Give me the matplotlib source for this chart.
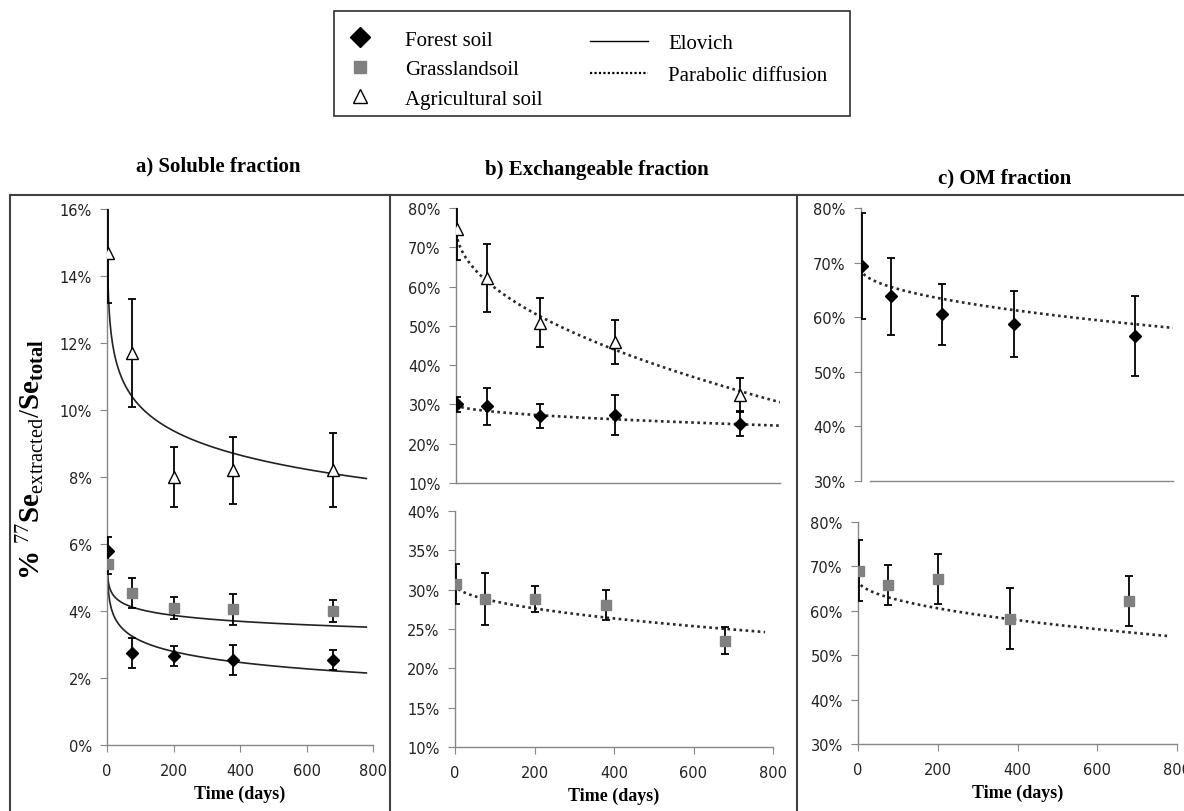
import numpy as np
import matplotlib.pyplot as plt
from matplotlib.lines import Line2D
from matplotlib.patches import Rectangle
from matplotlib.ticker import PercentFormatter, MultipleLocator

plt.rcParams['font.family'] = 'DejaVu Sans'
plt.rcParams['mathtext.fontset'] = 'custom'
plt.rcParams['mathtext.rm'] = 'Liberation Serif'
plt.rcParams['mathtext.bf'] = 'Liberation Serif:bold'
plt.rcParams['mathtext.it'] = 'Liberation Serif:italic'

W, H = 1184, 812

# sampling times (days)
days = [3, 75, 200, 380, 680]

# a) soluble fraction, % of 77Se
sol_forest = [5.8, 2.75, 2.65, 2.55, 2.55]
sol_forest_err = [0.4, 0.45, 0.3, 0.45, 0.3]
sol_grass = [5.4, 4.55, 4.1, 4.05, 4.0]
sol_grass_err = [0.3, 0.45, 0.33, 0.47, 0.33]
sol_agri = [14.7, 11.7, 8.0, 8.2, 8.2]
sol_agri_err = [1.5, 1.6, 0.9, 1.0, 1.1]

# b) exchangeable fraction
exc_forest = [30.1, 29.5, 27.0, 27.2, 25.1]
exc_forest_err = [1.9, 4.8, 3.0, 5.1, 3.1]
exc_agri = [74.7, 62.2, 50.8, 45.8, 32.5]
exc_agri_err = [8.0, 8.6, 6.2, 5.6, 4.2]
exc_grass = [30.7, 28.8, 28.8, 28.0, 23.5]
exc_grass_err = [2.5, 3.3, 1.7, 1.9, 1.7]

# c) OM fraction
om_forest = [69.3, 63.8, 60.5, 58.8, 56.5]
om_forest_err = [9.7, 7.0, 5.5, 6.0, 7.3]
om_grass = [69.0, 65.8, 67.2, 58.2, 62.2]
om_grass_err = [6.9, 4.6, 5.6, 6.9, 5.7]

# fitted model parameters
# Elovich: y = a + b ln(t)
elov_forest = (5.28, -0.47)
elov_grass = (5.225, -0.256)
elov_agri = (14.92, -1.046)
# parabolic diffusion: y = a + b sqrt(t)
para_exc_forest = (30.0, -0.194)
para_exc_agri = (75.1, -1.6)
para_exc_grass = (30.7, -0.218)
para_om_forest = (68.9, -0.39)
para_om_grass = (67.0, -0.455)

AX_GREY = '#868686'
SERIF = 'Liberation Serif'


def px_axes(fig, x0, x1, y_top, y_bot):
    # axes rectangle given in image pixels
    return fig.add_axes([x0 / W, 1 - y_bot / H, (x1 - x0) / W, (y_bot - y_top) / H])


def style_axes(ax, xmax, ylo, yhi, ystep, show_x=True):
    ax.set_xlim(0, xmax)
    ax.set_ylim(ylo, yhi)
    ax.yaxis.set_major_locator(MultipleLocator(ystep))
    ax.yaxis.set_major_formatter(PercentFormatter(xmax=100, decimals=0))
    ax.xaxis.set_major_locator(MultipleLocator(200))
    for s in ['top', 'right']:
        ax.spines[s].set_visible(False)
    for s in ['left', 'bottom']:
        ax.spines[s].set_color(AX_GREY)
        ax.spines[s].set_linewidth(1.0)
    ax.tick_params(axis='y', length=5, color=AX_GREY, labelsize=10.5,
                   labelcolor='#222222', pad=6)
    ax.tick_params(axis='x', length=5, color=AX_GREY, labelsize=10.5,
                   labelcolor='#222222', pad=8)
    if not show_x:
        ax.tick_params(axis='x', bottom=False, labelbottom=False)
    else:
        ax.set_xlabel('Time (days)', fontfamily=SERIF, fontweight='bold',
                      fontsize=13, labelpad=5)
    ax.patch.set_alpha(0)


def points(ax, y, err, kind):
    ebk = dict(yerr=err, fmt='none', ecolor='black', elinewidth=1.3,
               capsize=3, capthick=1.3, zorder=3)
    ax.errorbar(days, y, **ebk)
    if kind == 'forest':
        ax.plot(days, y, linestyle='none', marker='D', ms=6.5, color='black', zorder=4)
    elif kind == 'grass':
        ax.plot(days, y, linestyle='none', marker='s', ms=7, color='#808080', zorder=4)
    else:
        ax.plot(days, y, linestyle='none', marker='^', ms=9, mfc='white',
                mec='black', mew=1.0, zorder=4)


def elovich(ax, p, tmax):
    t = np.linspace(1, tmax, 400)
    ax.plot(t, p[0] + p[1] * np.log(t), color='#222222', lw=1.2, zorder=2)


def parabolic(ax, p, tmax):
    t = np.linspace(0, tmax, 400)
    ax.plot(t, p[0] + p[1] * np.sqrt(t), color='#2a2a2a', lw=1.9,
            linestyle=(0, (1, 1.3)), zorder=2)


fig = plt.figure(figsize=(W / 100, H / 100), dpi=100)

# a) soluble
ax_a = px_axes(fig, 107, 373, 210, 746)
style_axes(ax_a, 800, 0, 16, 2)
elovich(ax_a, elov_agri, 780)
elovich(ax_a, elov_grass, 780)
elovich(ax_a, elov_forest, 780)
points(ax_a, sol_agri, sol_agri_err, 'agri')
points(ax_a, sol_grass, sol_grass_err, 'grass')
points(ax_a, sol_forest, sol_forest_err, 'forest')

# b) exchangeable, top: forest + agricultural
ax_bt = px_axes(fig, 456, 780, 209, 484)
style_axes(ax_bt, 775, 10, 80, 10, show_x=False)
parabolic(ax_bt, para_exc_agri, 775)
parabolic(ax_bt, para_exc_forest, 775)
points(ax_bt, exc_agri, exc_agri_err, 'agri')
points(ax_bt, exc_forest, exc_forest_err, 'forest')

# b) exchangeable, bottom: grassland
ax_bb = px_axes(fig, 455, 773, 512, 748)
style_axes(ax_bb, 800, 10, 40, 5)
parabolic(ax_bb, para_exc_grass, 780)
points(ax_bb, exc_grass, exc_grass_err, 'grass')

# c) OM, top: forest
ax_ct = px_axes(fig, 861, 1173, 209, 482)
style_axes(ax_ct, 775, 30, 80, 10, show_x=False)
ax_ct.spines['bottom'].set_bounds(22, 775)
parabolic(ax_ct, para_om_forest, 775)
points(ax_ct, om_forest, om_forest_err, 'forest')

# c) OM, bottom: grassland
ax_cb = px_axes(fig, 858, 1177, 523, 745)
style_axes(ax_cb, 800, 30, 80, 10)
parabolic(ax_cb, para_om_grass, 780)
points(ax_cb, om_grass, om_grass_err, 'grass')

# panel titles
title_kw = dict(fontfamily=SERIF, fontweight='bold', fontsize=15,
                ha='center', va='center')
fig.text(218 / W, 1 - 166 / H, 'a) Soluble fraction', **title_kw)
fig.text(597 / W, 1 - 170 / H, 'b) Exchangeable fraction', **title_kw)
fig.text(1005 / W, 1 - 178 / H, 'c) OM fraction', **title_kw)

# y label
fig.text(31 / W, 1 - 460 / H,
         r'$\mathbf{\%}\ {}^{77}\mathbf{Se}_{\mathrm{extracted}}/\mathbf{Se}_{\mathbf{total}}$',
         rotation=90, ha='center', va='center', fontsize=21)

# panel frame lines
frame_kw = dict(color='#404040', lw=1.5, transform=fig.transFigure)
fig.add_artist(Line2D([10 / W, 1], [1 - 196 / H, 1 - 196 / H], **frame_kw))
for xv in [10, 390, 797]:
    fig.add_artist(Line2D([xv / W, xv / W], [0, 1 - 196 / H], **frame_kw))

# legend box
fig.add_artist(Rectangle((334 / W, 1 - 117 / H), (850 - 334) / W, 105 / H, fill=False,
                         edgecolor='#303030', lw=1.2, transform=fig.transFigure))
soil_handles = [
    Line2D([], [], linestyle='none', marker='D', ms=10, color='black'),
    Line2D([], [], linestyle='none', marker='s', ms=8, color='#808080'),
    Line2D([], [], linestyle='none', marker='^', ms=10, mfc='white', mec='black', mew=1.0),
]
soil_labels = ['Forest soil', 'Grasslandsoil', 'Agricultural soil']
leg1 = fig.legend(soil_handles, soil_labels, loc='upper left',
                  bbox_to_anchor=(337.5 / W, 1 - 20.5 / H), frameon=False,
                  borderpad=0, handlelength=1.2, handletextpad=1.56,
                  labelspacing=0.48, prop=dict(family=SERIF, size=15))
fit_handles = [
    Line2D([], [], color='black', lw=1.0),
    Line2D([], [], color='black', lw=1.6, linestyle=(0, (1, 1))),
]
fit_labels = ['Elovich', 'Parabolic diffusion']
leg2 = fig.legend(fit_handles, fit_labels, loc='upper left',
                  bbox_to_anchor=(580 / W, 1 - 24 / H), frameon=False,
                  borderpad=0, handlelength=2.74, handletextpad=1.0,
                  labelspacing=0.6, prop=dict(family=SERIF, size=15))

fig.savefig('out.png', dpi=100)
